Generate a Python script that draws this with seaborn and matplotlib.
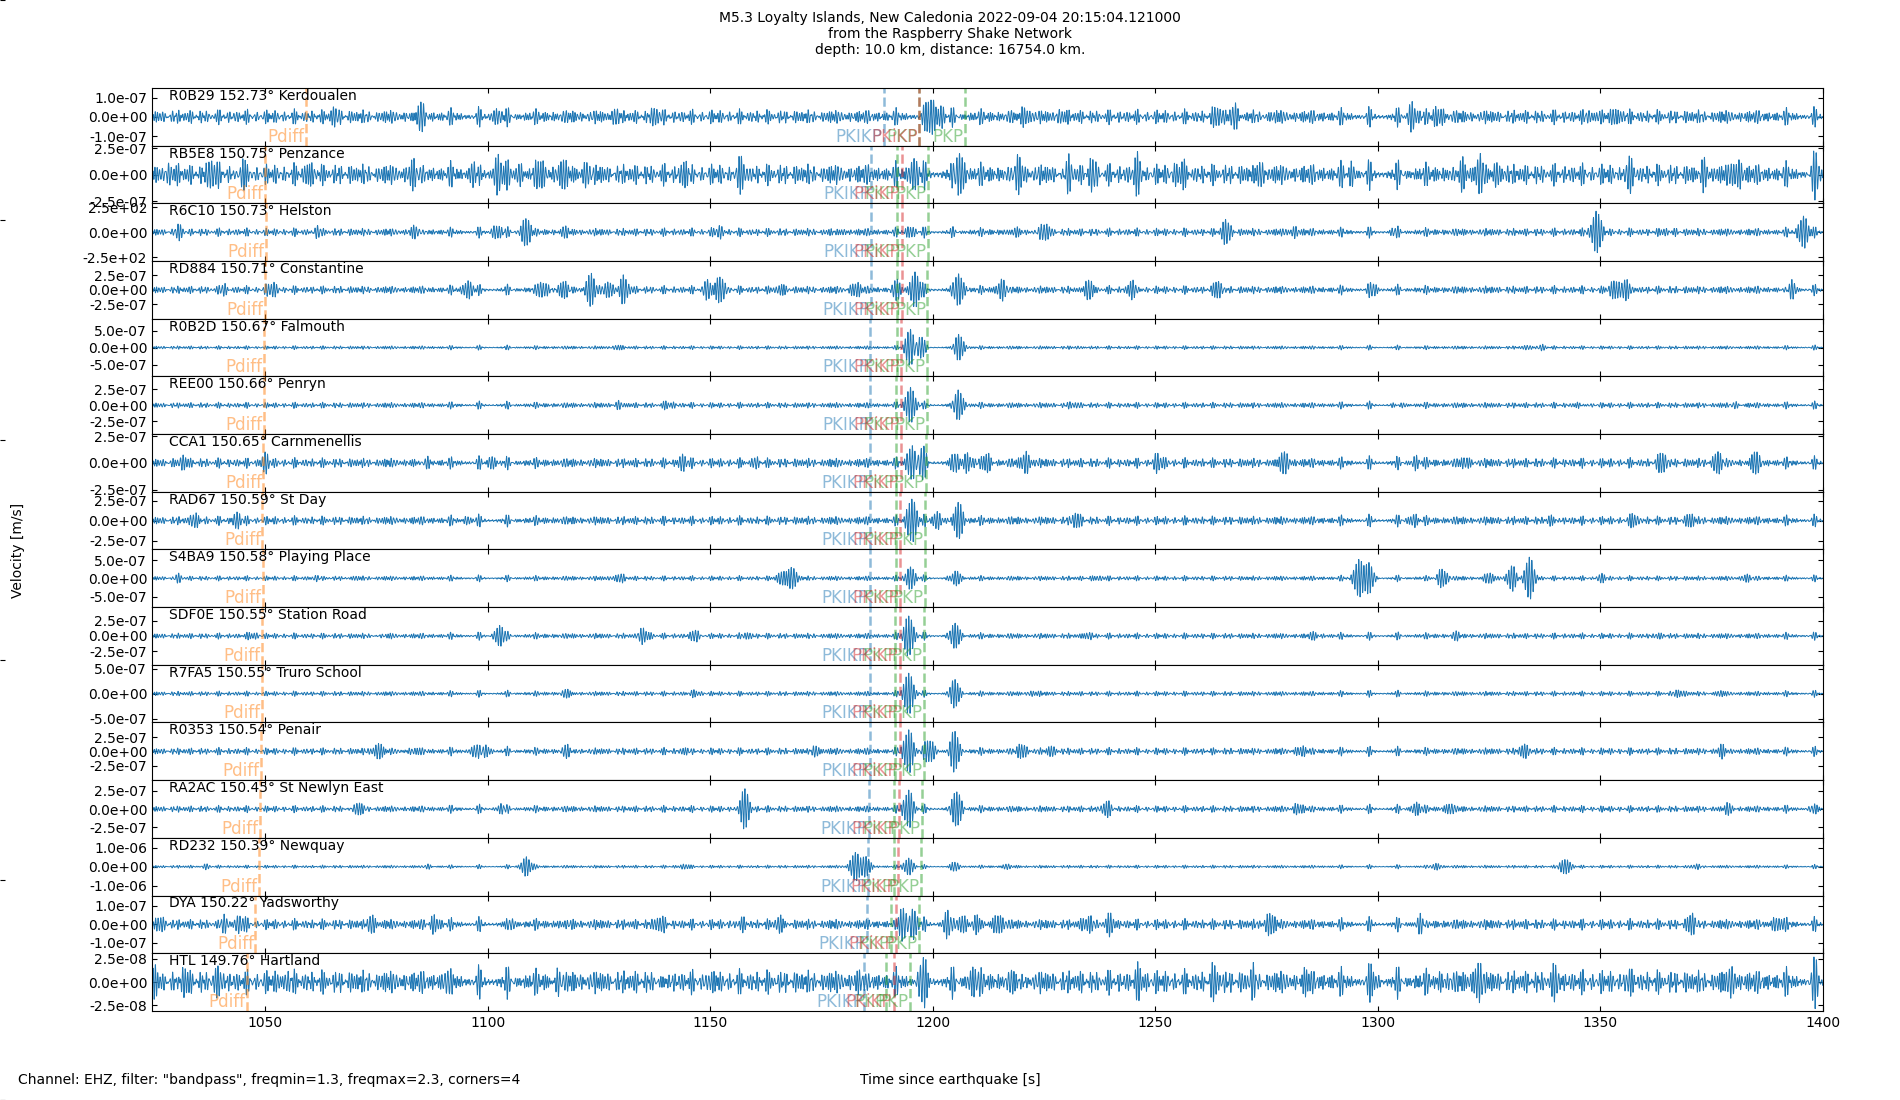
import numpy as np
import pandas as pd
import matplotlib
matplotlib.use("Agg")
import matplotlib.pyplot as plt
import matplotlib.ticker as mtick
import matplotlib.transforms as mtrans
import seaborn as sns

# %% station metadata
stations = ["R0B29", "RB5E8", "R6C10", "RD884", "R0B2D", "REE00", "CCA1", "RAD67",
            "S4BA9", "SDF0E", "R7FA5", "R0353", "RA2AC", "RD232", "DYA", "HTL"]
distances = [152.73, 150.75, 150.73, 150.71, 150.67, 150.66, 150.65, 150.59,
             150.58, 150.55, 150.55, 150.54, 150.45, 150.39, 150.22, 149.76]
places = ["Kerdoualen", "Penzance", "Helston", "Constantine", "Falmouth", "Penryn",
          "Carnmenellis", "St Day", "Playing Place", "Station Road", "Truro School",
          "Penair", "St Newlyn East", "Newquay", "Yadsworthy", "Hartland"]

# y axis: tick value and half range of each panel
ytick_val = [1e-7, 2.5e-7, 2.5e2, 2.5e-7, 5e-7, 2.5e-7, 2.5e-7, 2.5e-7,
             5e-7, 2.5e-7, 5e-7, 2.5e-7, 2.5e-7, 1e-6, 1e-7, 2.5e-8]
y_half = [1.5e-7, 2.72e-7, 290, 4.94e-7, 8.5e-7, 4.44e-7, 2.69e-7, 3.62e-7,
          7.9e-7, 4.73e-7, 5.8e-7, 5.06e-7, 4.0e-7, 1.53e-6, 1.55e-7, 3.1e-8]

# predicted phase arrivals [s]
t_pdiff = [1059.2, 1050.0, 1050.1, 1050.0, 1049.8, 1049.8, 1049.6, 1049.4,
           1049.5, 1049.3, 1049.3, 1049.1, 1048.8, 1048.6, 1047.8, 1045.9]
t_pkikp = [1189.0, 1186.2, 1186.2, 1186.1, 1186.0, 1186.0, 1185.9, 1185.9,
           1185.9, 1185.8, 1185.8, 1185.8, 1185.6, 1185.5, 1185.2, 1184.6]
t_pkp_a = [1196.8, 1192.0, 1192.0, 1191.9, 1191.9, 1191.8, 1191.8, 1191.8,
           1191.8, 1191.6, 1191.5, 1191.5, 1191.4, 1191.2, 1190.7, 1189.6]
t_pkikp_i = [1197.0, 1193.0, 1193.0, 1193.0, 1192.9, 1192.9, 1192.8, 1192.7,
             1192.7, 1192.6, 1192.6, 1192.6, 1192.5, 1192.2, 1191.8, 1191.2]
t_pkp_b = [1207.2, 1199.0, 1199.0, 1198.8, 1198.6, 1198.6, 1198.4, 1198.3,
           1198.3, 1198.1, 1198.0, 1198.0, 1197.6, 1197.4, 1196.8, 1194.9]

# trace description (amplitudes relative to panel half range)
noise_level = [0.16, 0.24, 0.09, 0.09, 0.04, 0.065, 0.11, 0.1,
               0.055, 0.065, 0.055, 0.08, 0.075, 0.035, 0.12, 0.27]
burst_times = [
    [1065.4, 1085, 1102, 1128.5, 1138, 1199.6, 1201.8, 1220.6, 1229, 1264, 1268, 1276, 1307.7, 1313.6, 1348, 1354],
    [1028.9, 1038, 1045, 1060, 1083.5, 1097, 1102.4, 1107, 1112.5, 1116.5, 1121.7, 1144.6, 1157, 1195.8, 1206, 1219,
     1230.6, 1236, 1246, 1255.4, 1273.5, 1294, 1318.5, 1323, 1326.7, 1356.4, 1372.8, 1380.5, 1398.5],
    [1031, 1061.8, 1084, 1102, 1108.6, 1117, 1152, 1179, 1195, 1217.8, 1225, 1265.8, 1281, 1303.8, 1349, 1365.4, 1395.6],
    [1041, 1051.4, 1095.6, 1112.5, 1117, 1123.3, 1127, 1130.5, 1149.4, 1152.2, 1166, 1182.6, 1192, 1196, 1205.8,
     1215.4, 1235, 1245, 1264.2, 1299, 1353, 1356, 1393],
    [1129.3, 1195, 1197, 1205.8, 1232.6, 1333.6, 1337],
    [1130, 1140.6, 1195, 1205.7, 1232, 1304.6, 1345.4, 1380.5],
    [1031, 1050, 1086, 1101, 1143.8, 1159.4, 1195.4, 1197.4, 1205, 1207.8, 1212, 1221, 1250.6, 1279, 1308.7, 1320,
     1364, 1376.4, 1384.6],
    [1034.5, 1043.7, 1095.6, 1195.3, 1201, 1205.7, 1232, 1308, 1339, 1357.7, 1370],
    [1030.6, 1061.3, 1069.8, 1129.4, 1166, 1168.2, 1195, 1205, 1237, 1295.7, 1298, 1314.4, 1324.6, 1330, 1334,
     1350.3, 1383],
    [1047, 1076.4, 1102.7, 1135, 1146.7, 1157.8, 1194.6, 1205, 1234.6, 1286, 1317.6, 1363],
    [1118, 1146.3, 1194.6, 1205, 1222.6, 1367.5, 1376.4],
    [1075.5, 1083, 1097, 1099.6, 1118, 1145, 1173.8, 1194.6, 1199.4, 1205, 1220, 1226.6, 1282.6, 1333, 1377.6],
    [1070.6, 1103, 1157.8, 1194.6, 1205.4, 1239, 1282, 1308.7, 1316, 1379, 1398],
    [1036.4, 1086.6, 1108.7, 1144, 1182.6, 1185, 1194.6, 1205, 1217, 1313, 1342, 1371],
    [1026.6, 1040.8, 1044.4, 1074.2, 1088, 1105, 1117.4, 1138.7, 1157, 1165.8, 1193.4, 1195.4, 1203.4, 1206.6, 1210,
     1214.6, 1235, 1240, 1275.7, 1309.5, 1370.7, 1389.5],
    [1024.8, 1031.5, 1039.5, 1054.6, 1091, 1115.6, 1139.6, 1150.2, 1184.2, 1197.8, 1209, 1219.4, 1246.6, 1263.4,
     1271.4, 1284, 1299, 1314.4, 1322.5, 1340, 1356.4, 1379, 1398.5],
]
burst_amps = [
    [0.3, 0.3, 0.28, 0.25, 0.25, 0.65, 0.35, 0.4, 0.3, 0.3, 0.45, 0.25, 0.5, 0.3, 0.25, 0.3],
    [0.45, 0.4, 0.45, 0.35, 0.35, 0.4, 0.65, 0.4, 0.45, 0.5, 0.4, 0.4, 0.35, 0.5, 0.72, 0.45,
     0.4, 0.45, 0.4, 0.35, 0.45, 0.3, 0.4, 0.5, 0.5, 0.35, 0.45, 0.45, 0.4],
    [0.2, 0.2, 0.2, 0.25, 0.52, 0.15, 0.15, 0.15, 0.2, 0.2, 0.3, 0.4, 0.15, 0.12, 0.72, 0.15, 0.55],
    [0.2, 0.2, 0.3, 0.3, 0.35, 0.6, 0.35, 0.45, 0.35, 0.49, 0.2, 0.25, 0.3, 0.62, 0.55,
     0.35, 0.35, 0.35, 0.25, 0.2, 0.35, 0.4, 0.3],
    [0.1, 0.66, 0.4, 0.45, 0.08, 0.08, 0.08],
    [0.12, 0.1, 0.6, 0.52, 0.12, 0.15, 0.12, 0.1],
    [0.25, 0.25, 0.2, 0.22, 0.2, 0.2, 0.62, 0.5, 0.35, 0.35, 0.3, 0.3, 0.25, 0.3, 0.2, 0.25, 0.28, 0.3, 0.3],
    [0.25, 0.2, 0.15, 0.75, 0.3, 0.63, 0.2, 0.18, 0.2, 0.18, 0.18],
    [0.1, 0.1, 0.1, 0.15, 0.25, 0.38, 0.4, 0.3, 0.1, 0.63, 0.45, 0.35, 0.2, 0.4, 0.75, 0.1, 0.1],
    [0.1, 0.1, 0.35, 0.3, 0.2, 0.1, 0.69, 0.45, 0.1, 0.1, 0.1, 0.12],
    [0.1, 0.12, 0.71, 0.45, 0.12, 0.12, 0.12],
    [0.25, 0.15, 0.2, 0.2, 0.15, 0.12, 0.15, 0.75, 0.4, 0.6, 0.2, 0.15, 0.15, 0.2, 0.2],
    [0.25, 0.15, 0.7, 0.66, 0.6, 0.2, 0.15, 0.2, 0.15, 0.15, 0.15],
    [0.07, 0.07, 0.32, 0.1, 0.46, 0.35, 0.3, 0.15, 0.1, 0.1, 0.29, 0.08],
    [0.2, 0.3, 0.25, 0.3, 0.25, 0.22, 0.25, 0.25, 0.3, 0.25, 0.63, 0.55, 0.45, 0.35, 0.35,
     0.35, 0.25, 0.25, 0.3, 0.3, 0.28, 0.3],
    [0.4, 0.35, 0.45, 0.35, 0.4, 0.35, 0.3, 0.35, 0.3, 0.72, 0.4, 0.35, 0.35, 0.35,
     0.35, 0.3, 0.35, 0.4, 0.5, 0.35, 0.35, 0.4, 0.35],
]

t_start, t_end = 1024.6, 1400.0
x_ticks = [1050, 1100, 1150, 1200, 1250, 1300, 1350, 1400]

# filter band 1.3-2.3 Hz
band_freqs = [1.31, 1.47, 1.62, 1.79, 1.93, 2.08, 2.27]
burst_freq = 1.7
burst_width = 0.9

phase_names = ["Pdiff", "PKIKP", "PKP", "PKiKP", "PKP"]
phase_colors = ["C1", "C0", "C2", "C3", "C2"]
phase_times = [t_pdiff, t_pkikp, t_pkp_a, t_pkikp_i, t_pkp_b]

#%%
plt.rcParams.update({
    "xtick.direction": "in", "ytick.direction": "in",
    "xtick.top": True, "ytick.right": True,
    "font.size": 10,
})

t = np.arange(t_start, t_end, 0.025)


def build_trace(i):
    # background microseism in the pass band, plus the wave packets
    carrier = np.zeros_like(t)
    for k, f in enumerate(band_freqs):
        carrier += np.sin(2 * np.pi * f * t + (k * 1.9 + i * 0.83))
    carrier = carrier / carrier.std() / 1.6
    tr = noise_level[i] * carrier
    for tk, ak in zip(burst_times[i], burst_amps[i]):
        tr += ak * np.exp(-0.5 * ((t - tk) / burst_width) ** 2) * np.cos(2 * np.pi * burst_freq * (t - tk))
    return tr * y_half[i]


fig, axes = plt.subplots(len(stations), 1, sharex=True, figsize=(19, 11), dpi=100)
fig.subplots_adjust(left=0.08, right=0.9595, top=0.92, bottom=0.081, hspace=0)

for i, ax in enumerate(axes):
    df_tr = pd.DataFrame({"time": t, "vel": build_trace(i)})
    sns.lineplot(data=df_tr, x="time", y="vel", ax=ax, color="C0", lw=0.7,
                 estimator=None, sort=False)
    ax.set_xlim(t_start, t_end)
    ax.set_ylim(-y_half[i], y_half[i])
    ax.set_yticks([-ytick_val[i], 0, ytick_val[i]])
    ax.yaxis.set_major_formatter(mtick.FormatStrFormatter("%.1e"))
    ax.set_xlabel("")
    ax.set_ylabel("")
    for spine in ax.spines.values():
        spine.set_color("black")

    ax.text(0.01, 0.985, f"{stations[i]} {distances[i]:.2f}° {places[i]}",
            transform=ax.transAxes, ha="left", va="top", fontsize=10)

    trans = mtrans.blended_transform_factory(ax.transData, ax.transAxes)
    for name, col, times in zip(phase_names, phase_colors, phase_times):
        ax.axvline(times[i], color=col, ls="--", lw=1.8, alpha=0.5)
        ax.annotate(name, xy=(times[i], 0), xycoords=trans, xytext=(-1, 0),
                    textcoords="offset points", ha="right", va="bottom",
                    color=col, alpha=0.5, fontsize=12)

axes[-1].set_xticks(x_ticks)
axes[-1].xaxis.set_major_formatter(mtick.FormatStrFormatter("%d"))

# full-figure helper axes used for the shared labels
ax_bg = fig.add_axes([0, 0, 1, 1], frameon=False, zorder=-1)
ax_bg.set_xticks([])
ax_bg.tick_params(axis="y", labelleft=False, right=False)

fig.suptitle("M5.3 Loyalty Islands, New Caledonia 2022-09-04 20:15:04.121000\n"
             "from the Raspberry Shake Network\n"
             "depth: 10.0 km, distance: 16754.0 km.", y=0.99, fontsize=10)
fig.text(0.5, 0.018, "Time since earthquake [s]", ha="center", va="center")
fig.text(0.0095, 0.018, 'Channel: EHZ, filter: "bandpass", freqmin=1.3, freqmax=2.3, corners=4',
         ha="left", va="center")
fig.text(0.0095, 0.5, "Velocity [m/s]", rotation=90, ha="center", va="center")

plt.savefig("out.png", dpi=100)
